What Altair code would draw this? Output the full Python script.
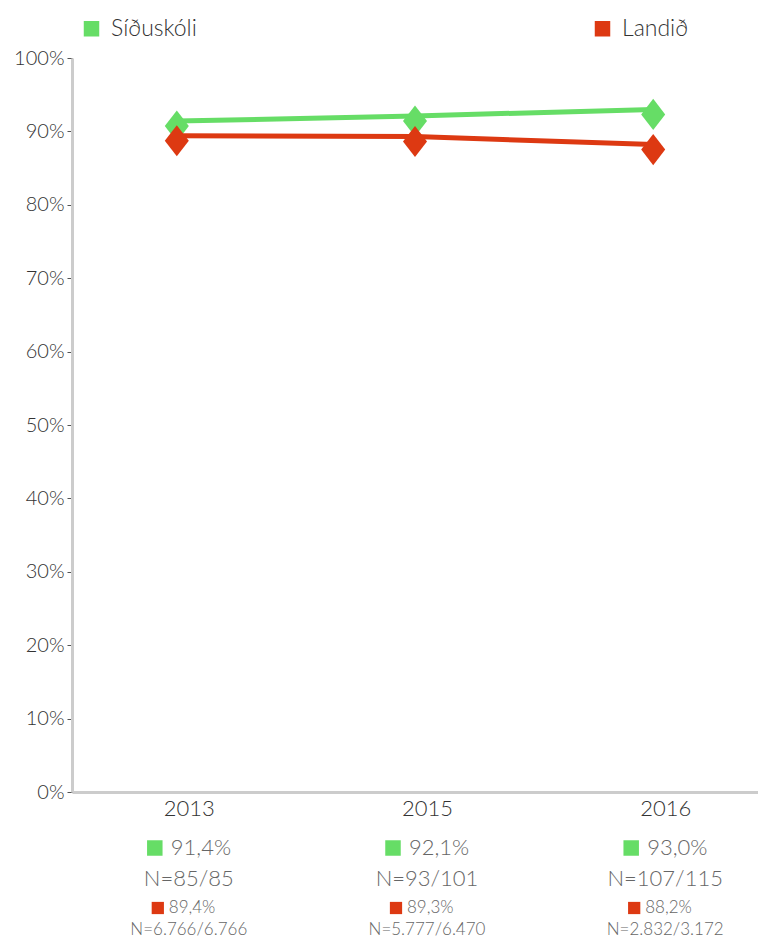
import altair as alt
import pandas as pd

years = ["2013", "2015", "2016"]
school = [0.914, 0.921, 0.930]
country = [0.894, 0.893, 0.882]
school_pct = ["91,4%", "92,1%", "93,0%"]
school_n = ["N=85/85", "N=93/101", "N=107/115"]
country_pct = ["89,4%", "89,3%", "88,2%"]
country_n = ["N=6.766/6.766", "N=5.777/6.470", "N=2.832/3.172"]
series = ["Síðuskóli", "Landið"]
colors = ["#66dd66", "#dd3912"]

FONT = "Lato"
FW = 300

long = pd.DataFrame({
    "year": years * 2,
    "value": school + country,
    "series": [series[0]] * 3 + [series[1]] * 3,
})
ann = pd.DataFrame({
    "year": years,
    "spct": school_pct,
    "sn": school_n,
    "cpct": country_pct,
    "cn": country_n,
})

xscale = alt.Scale(type="point", domain=years, padding=0.44)
x = alt.X("year:N", scale=xscale, sort=years,
          axis=alt.Axis(title=None, labelAngle=0, labelFontSize=22, labelColor="#333",
                        labelFont=FONT, labelFontWeight=FW, labelPadding=6, labelOffset=12,
                        ticks=False, domainColor="#cccccc", domainWidth=3))
y = alt.Y("value:Q", scale=alt.Scale(domain=[0, 1]),
          axis=alt.Axis(title=None, format=".0%", values=[i / 10 for i in range(11)],
                        labelFontSize=20, labelColor="#333", labelFont=FONT, labelFontWeight=FW,
                        tickSize=5, tickColor="#555", labelPadding=3,
                        domainColor="#cccccc", domainWidth=3, grid=False))
color = alt.Color("series:N",
                  scale=alt.Scale(domain=series, range=colors),
                  legend=alt.Legend(title=None, orient="none", legendX=8, legendY=-41,
                                    direction="horizontal", columns=2, columnPadding=394,
                                    symbolType="square", symbolSize=240, symbolStrokeWidth=0,
                                    labelFontSize=23, labelFont=FONT, labelFontWeight=FW,
                                    labelColor="#333", labelOffset=8))

lines = alt.Chart(long).mark_line(strokeWidth=5).encode(x=x, y=y, color=color)
points = alt.Chart(long).mark_point(
    shape="M0,-1.1L0.85,0L0,1.1L-0.85,0Z", filled=True, opacity=1, size=800, yOffset=5
).encode(x=x, y=y, color=alt.Color("series:N", scale=alt.Scale(domain=series, range=colors), legend=None))

base = alt.Chart(ann).encode(x=alt.X("year:N", scale=xscale, sort=years))
gsq = base.mark_square(size=240, color=colors[0], opacity=1, xOffset=-22).encode(y=alt.value(790))
gtxt = base.mark_text(align="left", baseline="middle", fontSize=22, font=FONT, fontWeight=FW,
                      color="#666", xOffset=-6).encode(y=alt.value(790), text="spct:N")
gn = base.mark_text(align="center", baseline="middle", fontSize=22, font=FONT, fontWeight=FW,
                    color="#666", xOffset=12).encode(y=alt.value(821), text="sn:N")
rsq = base.mark_square(size=150, color=colors[1], opacity=1, xOffset=-19).encode(y=alt.value(850))
rtxt = base.mark_text(align="left", baseline="middle", fontSize=17, font=FONT, fontWeight=FW,
                      color="#666", xOffset=-8).encode(y=alt.value(850), text="cpct:N")
rn = base.mark_text(align="center", baseline="middle", fontSize=17, font=FONT, fontWeight=FW,
                    color="#666", xOffset=12).encode(y=alt.value(872), text="cn:N")

chart = alt.layer(lines, points, gsq, gtxt, gn, rsq, rtxt, rn).properties(
    width=686, height=734,
    autosize=alt.AutoSizeParams(type="none"),
    padding={"left": 64, "top": 50, "right": 0, "bottom": 147},
).configure_view(stroke=None)

chart.save("out.html", embed_options={"renderer": "svg", "actions": False})
